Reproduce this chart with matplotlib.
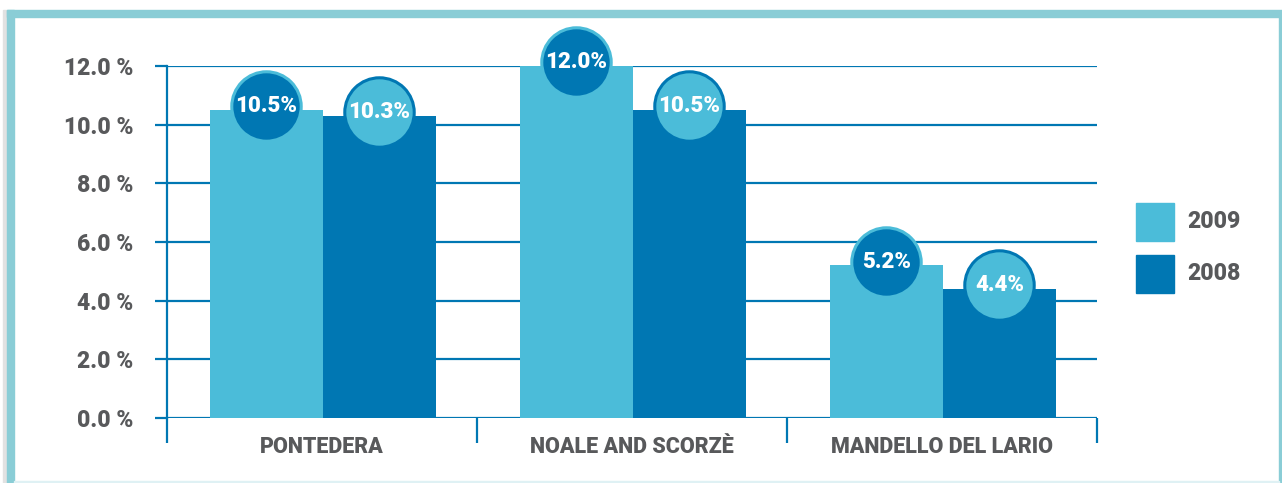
import matplotlib
matplotlib.use("Agg")
import matplotlib.pyplot as plt
from matplotlib.patches import Rectangle
import numpy as np

plt.rcParams['font.family'] = ['Roboto', 'DejaVu Sans']
plt.rcParams['font.weight'] = 'black'

# share of households, by area and year
areas = ["PONTEDERA", "NOALE AND SCORZÈ", "MANDELLO DEL LARIO"]
years = ["2009", "2008"]
values_2009 = [10.5, 12.0, 5.2]
values_2008 = [10.3, 10.5, 4.4]
y_ticks = [0, 2, 4, 6, 8, 10, 12]

LIGHT = "#4bbcd9"
DARK = "#0077b3"
FRAME = "#8acdd6"
GREY = "#58595b"

fig = plt.figure(figsize=(12.82, 4.83), dpi=100)
fig.patch.set_facecolor("white")

# frame around the panel
fig.patches.append(Rectangle((3 / 1282, 0), 4 / 1282, 473 / 483,
                             transform=fig.transFigure, color="#e2e2e2", zorder=0))
fig.patches.append(Rectangle((7 / 1282, 466 / 483), 1275 / 1282, 7 / 483,
                             transform=fig.transFigure, color=FRAME, zorder=1))
fig.patches.append(Rectangle((7 / 1282, 0), 7 / 1282, 473 / 483,
                             transform=fig.transFigure, color=FRAME, zorder=1))
fig.patches.append(Rectangle((1279 / 1282, 0), 2 / 1282, 466 / 483,
                             transform=fig.transFigure, color=FRAME, zorder=1))
fig.patches.append(Rectangle((14 / 1282, 0), 1265 / 1282, 2 / 483,
                             transform=fig.transFigure, color="#dff1f4", zorder=1))

ax = fig.add_axes([167 / 1282, 65 / 483, 930 / 1282, 352 / 483])
ax.set_facecolor("none")

x = np.arange(len(areas))
width = 0.365
off_light = -0.18
off_dark = 0.185

ax.bar(x + off_light, values_2009, width, color=LIGHT, zorder=3, label=years[0])
ax.bar(x + off_dark, values_2008, width, color=DARK, zorder=3, label=years[1])

# value badges on top of each bar
for xs, vals, face, edge in [(x + off_light, values_2009, DARK, LIGHT),
                             (x + off_dark, values_2008, LIGHT, DARK)]:
    ax.scatter(xs, np.array(vals) + 0.12, s=2500, color=face, edgecolors=edge,
               linewidths=2.2, zorder=5, clip_on=False)
    for xi, v in zip(xs, vals):
        ax.text(xi, v + 0.12, f"{v:.1f}%", ha="center", va="center",
                color="white", fontsize=16, fontweight="black", zorder=6)

ax.set_xlim(-0.5, 2.5)
ax.set_ylim(0, 12)
ax.set_yticks(y_ticks)
ax.set_yticklabels([f"{t:.1f} %" for t in y_ticks], color=GREY, fontsize=16.5)
ax.yaxis.grid(True, color=DARK, linewidth=1.6, zorder=1)
ax.tick_params(axis="y", length=9, width=1.6, color=DARK, pad=15)

# group separators below the baseline, labels between them
ax.set_xticks([-0.5, 0.5, 1.5, 2.5])
ax.set_xticklabels([])
ax.tick_params(axis="x", which="major", length=18, width=1.6, color=DARK)
ax.set_xticks(x, minor=True)
ax.set_xticklabels(areas, minor=True, color=GREY, fontsize=15.5)
ax.tick_params(axis="x", which="minor", length=0, pad=13)

for side in ["top", "right", "bottom"]:
    ax.spines[side].set_visible(False)
ax.spines["left"].set_color(DARK)
ax.spines["left"].set_linewidth(1.6)

# legend boxes on the right
for i, (label, color) in enumerate(zip(years, [LIGHT, DARK])):
    top = 203 + i * 52
    fig.patches.append(Rectangle((1136 / 1282, (483 - top - 38) / 483), 38 / 1282, 38 / 483,
                                 transform=fig.transFigure, color=color))
    fig.text(1187 / 1282, (483 - top - 19) / 483, label, ha="left", va="center",
             color=GREY, fontsize=16.5, fontweight="black")

fig.savefig("out.png", dpi=100, facecolor="white")
